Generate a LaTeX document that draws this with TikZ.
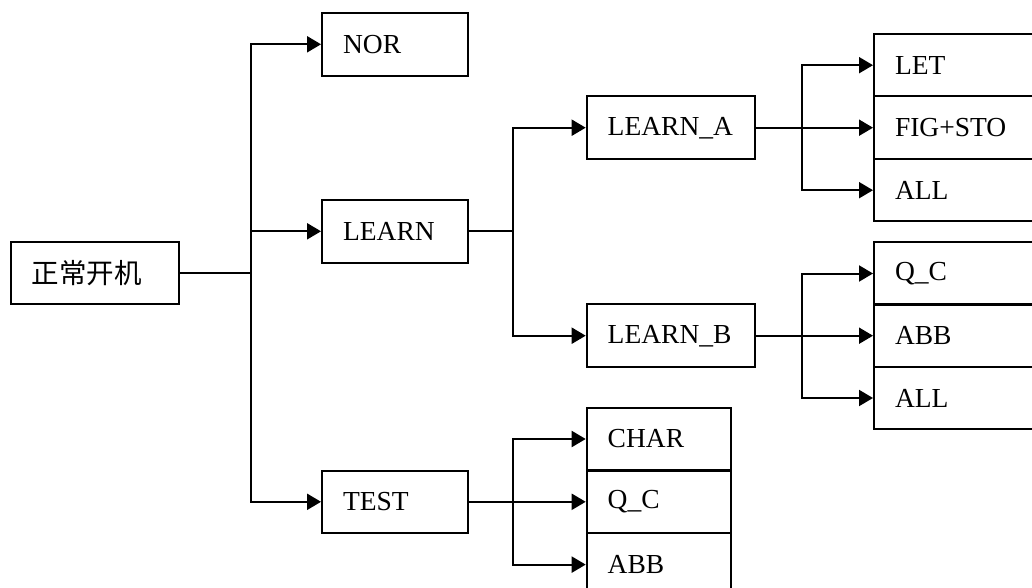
\documentclass[tikz,border=0pt]{standalone}
\usepackage{fontspec}
\setmainfont{Liberation Serif}
\newfontfamily\cjk{Noto Sans CJK SC}
\usetikzlibrary{arrows.meta}
\begin{document}
\begin{tikzpicture}[x=0.5pt,y=-0.5pt,
  bx/.style={draw, line width=1pt, minimum height=31.25pt, inner xsep=10.5pt, inner ysep=0pt,
    align=left, text width=#1, font=\fontsize{13.75}{16}\selectfont},
  ln/.style={line width=1pt},
  arr/.style={ln, -{Triangle[length=7pt,width=8pt]}}]
\useasboundingbox (0,0) rectangle (1032,588);
\clip (0,0) rectangle (1032,588);
% bus positions
\coordinate (b1) at (250.5,0);
\coordinate (b2) at (513.3,0);
\coordinate (b3) at (801.7,0);
% nodes
\node[bx=63pt] (start) at (95,273) {\cjk 正常开机};
\node[bx=51.75pt] (NOR) at (394.8,44.3) {NOR};
\node[bx=51.75pt] (LEARN) at (394.8,231.3) {LEARN};
\node[bx=51.75pt] (TEST) at (394.8,501.8) {TEST};
\node[bx=63.3pt] (LA) at (671,127.7) {LEARN\_A};
\node[bx=63.3pt] (LB) at (671,335.7) {LEARN\_B};
\node[bx=72pt] (LET) at (967,65.2) {LET};
\node[bx=72pt] (FIG) at (967,127.7) {FIG+STO};
\node[bx=72pt] (ALLa) at (967,190.2) {ALL};
\node[bx=72pt] (QCb) at (967,273.5) {Q\_C};
\node[bx=72pt] (ABBb) at (967,335.7) {ABB};
\node[bx=72pt] (ALLb) at (967,398) {ALL};
\node[bx=51pt] (CHAR) at (658.7,439) {CHAR};
\node[bx=51pt] (QCt) at (658.7,501.8) {Q\_C};
\node[bx=51pt] (ABBt) at (658.7,564.6) {ABB};
% connectors level 1
\draw[ln] (start.east) -- (start.east -| b1);
\draw[arr] (start.east -| b1) |- (NOR.west);
\draw[arr] (start.east -| b1) |- (TEST.west);
\draw[arr] (LEARN.west -| b1) -- (LEARN.west);
% LEARN
\draw[ln] (LEARN.east) -- (LEARN.east -| b2);
\draw[arr] (LEARN.east -| b2) |- (LA.west);
\draw[arr] (LEARN.east -| b2) |- (LB.west);
% LEARN_A
\draw[arr] (LA.east) -- (FIG.west);
\draw[arr] (FIG.west -| b3) |- (LET.west);
\draw[arr] (FIG.west -| b3) |- (ALLa.west);
% LEARN_B
\draw[arr] (LB.east) -- (ABBb.west);
\draw[arr] (ABBb.west -| b3) |- (QCb.west);
\draw[arr] (ABBb.west -| b3) |- (ALLb.west);
% TEST
\draw[arr] (TEST.east) -- (QCt.west);
\draw[arr] (QCt.west -| b2) |- (CHAR.west);
\draw[arr] (QCt.west -| b2) |- (ABBt.west);
\end{tikzpicture}
\end{document}
